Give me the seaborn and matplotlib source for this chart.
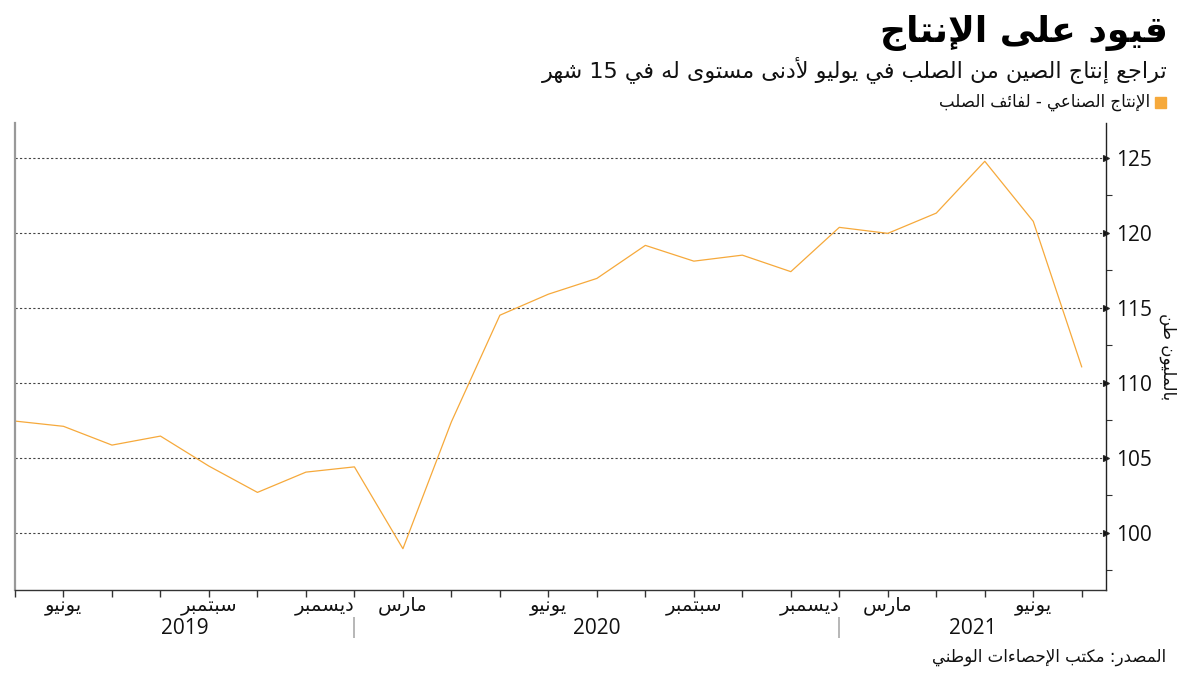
import re
import numpy as np
import pandas as pd
import matplotlib
matplotlib.use("Agg")
import matplotlib.pyplot as plt
from matplotlib.ticker import MultipleLocator
import seaborn as sns

# ---------------- data ----------------
years = [2019] * 8 + [2020] * 10 + [2021] * 5
month_nums = [5, 6, 7, 8, 9, 10, 11, 12,
              3, 4, 5, 6, 7, 8, 9, 10, 11, 12,
              3, 4, 5, 6, 7]
values = [107.45, 107.1, 105.85, 106.45, 104.45, 102.7, 104.05, 104.4,
          98.95, 107.4, 114.5, 115.9, 116.95, 119.15, 118.1, 118.5, 117.4, 120.35,
          119.95, 121.3, 124.75, 120.75, 111.05]
month_names = {3: "مارس", 6: "يونيو", 9: "سبتمبر", 12: "ديسمبر"}
y_ticks = [100, 105, 110, 115, 120, 125]

title = "قيود على الإنتاج"
subtitle = "تراجع إنتاج الصين من الصلب في يوليو لأدنى مستوى له في 15 شهر"
legend_label = "الإنتاج الصناعي - لفائف الصلب"
y_label = "بالمليون طن"
source = "المصدر: مكتب الإحصاءات الوطني"

# ---------------- Arabic shaping (presentation forms + visual order) ----------------
DUAL = {'ئ': 0xFE89, 'ب': 0xFE8F, 'ت': 0xFE95, 'ث': 0xFE99, 'ج': 0xFE9D, 'ح': 0xFEA1,
        'خ': 0xFEA5, 'س': 0xFEB1, 'ش': 0xFEB5, 'ص': 0xFEB9, 'ض': 0xFEBD, 'ط': 0xFEC1,
        'ظ': 0xFEC5, 'ع': 0xFEC9, 'غ': 0xFECD, 'ف': 0xFED1, 'ق': 0xFED5, 'ك': 0xFED9,
        'ل': 0xFEDD, 'م': 0xFEE1, 'ن': 0xFEE5, 'ه': 0xFEE9, 'ي': 0xFEF1}
RIGHT = {'آ': 0xFE81, 'أ': 0xFE83, 'ؤ': 0xFE85, 'إ': 0xFE87, 'ا': 0xFE8D, 'ة': 0xFE93,
         'د': 0xFEA9, 'ذ': 0xFEAB, 'ر': 0xFEAD, 'ز': 0xFEAF, 'و': 0xFEED, 'ى': 0xFEEF,
         'لآ': 0xFEF5, 'لأ': 0xFEF7, 'لإ': 0xFEF9, 'لا': 0xFEFB}
NONE = {'ء': 0xFE80}


def shape_ar(text):
    units = []
    i = 0
    while i < len(text):
        if text[i] == 'ل' and i + 1 < len(text) and text[i + 1] in 'آأإا':
            units.append(text[i:i + 2]); i += 2
        else:
            units.append(text[i]); i += 1

    def fwd(u):
        return u in DUAL

    def back(u):
        return u in DUAL or u in RIGHT

    out = []
    for k, u in enumerate(units):
        prev = units[k - 1] if k > 0 else None
        nxt = units[k + 1] if k + 1 < len(units) else None
        b = prev is not None and fwd(prev) and back(u)
        f = nxt is not None and fwd(u) and back(nxt)
        if u in DUAL:
            base = DUAL[u]
            off = 3 if (b and f) else 1 if b else 2 if f else 0
            out.append(chr(base + off))
        elif u in RIGHT:
            out.append(chr(RIGHT[u] + (1 if b else 0)))
        elif u in NONE:
            out.append(chr(NONE[u]))
        else:
            out.append(u)
    s = "".join(out)[::-1]
    return re.sub(r'[0-9]+', lambda m: m.group(0)[::-1], s)


# ---------------- figure ----------------
sns.set_style("white")
plt.rcParams['font.family'] = ['DejaVu Sans']
AR = ['DejaVu Sans']
NUM = ['Open Sans', 'DejaVu Sans']

df = pd.DataFrame({"idx": np.arange(len(values)), "value": values,
                   "year": years, "month": month_nums})

fig = plt.figure(figsize=(12, 6.75), dpi=100)
ax = fig.add_axes([15 / 1200, 1 - 590 / 675, (1106 - 15) / 1200, (590 - 123) / 675])

sns.lineplot(data=df, x="idx", y="value", ax=ax, color="#F6A93B", linewidth=0.9)

ax.set_xlim(0, len(values) - 0.5)
ax.set_ylim(96.2, 127.3)

# grid
for yv in y_ticks:
    ax.axhline(yv, color="#444444", linestyle=(0, (2, 2)), linewidth=0.8, zorder=0)

# spines
ax.spines["top"].set_visible(False)
ax.spines["left"].set_color("#999999")
ax.spines["left"].set_linewidth(1.6)
ax.spines["bottom"].set_color("#333333")
ax.spines["bottom"].set_linewidth(1.0)
ax.spines["right"].set_color("#222222")
ax.spines["right"].set_linewidth(1.0)

# y axis on right
ax.yaxis.tick_right()
ax.set_yticks(y_ticks)
ax.yaxis.set_minor_locator(MultipleLocator(2.5))
ax.set_yticklabels([str(v) for v in y_ticks], fontsize=15, family=NUM, color="#111111")
ax.tick_params(axis="y", which="major", right=True, left=False, length=5, pad=2)
ax.tick_params(axis="y", which="minor", right=True, left=False, length=4, width=0.8,
               color="#333333")
for t in ax.yaxis.get_major_ticks():
    t.tick2line.set_marker(">")
    t.tick2line.set_markersize(5)
    t.tick2line.set_color("#111111")
ax.set_ylabel("")
ax.set_xlabel("")

# x axis
ax.set_xticks(df["idx"])
labels = [shape_ar(month_names[m]) if m % 3 == 0 else "" for m in month_nums]
ax.set_xticklabels(labels, fontsize=14, family=AR, color="#111111")
ax.tick_params(axis="x", which="major", bottom=True, length=5, width=1, color="#333333", pad=0)
for k, lab in enumerate(ax.get_xticklabels()):
    if month_nums[k] == 12:
        lab.set_ha("right")

# year separators and labels
yr = np.array(years)
bounds = [int(np.where(yr == y)[0][-1]) for y in sorted(set(years))[:-1]]
ax.vlines(bounds, -0.058, -0.103, transform=ax.get_xaxis_transform(), clip_on=False,
          color="#aaaaaa", linewidth=1.2)
edges = [0] + bounds + [len(values) - 0.5]
for k, y in enumerate(sorted(set(years))):
    ax.text((edges[k] + edges[k + 1]) / 2, -0.082, str(y), transform=ax.get_xaxis_transform(),
            ha="center", va="center", fontsize=15, family=NUM, color="#111111")

# texts
fig.text(1168 / 1200, 1 - 33 / 675, shape_ar(title), ha="right", va="center",
         fontsize=26, fontweight="bold", family=AR, color="#000000")
fig.text(1168 / 1200, 1 - 70 / 675, shape_ar(subtitle), ha="right", va="center",
         fontsize=16, family=AR, color="#111111")
fig.patches.append(plt.Rectangle((1155 / 1200, 1 - 108 / 675), 11 / 1200, 11 / 675,
                                 transform=fig.transFigure, color="#F6A93B"))
fig.text(1150 / 1200, 1 - 102 / 675, shape_ar(legend_label), ha="right", va="center",
         fontsize=12, family=AR, color="#111111")
fig.text(1168 / 1200, 1 - 357 / 675, shape_ar(y_label), ha="center", va="center",
         rotation=270, fontsize=12, family=AR, color="#111111")
fig.text(1166 / 1200, 1 - 657 / 675, shape_ar(source), ha="right", va="center",
         fontsize=12, family=AR, color="#111111")

fig.savefig("out.png", dpi=100, facecolor="white")
